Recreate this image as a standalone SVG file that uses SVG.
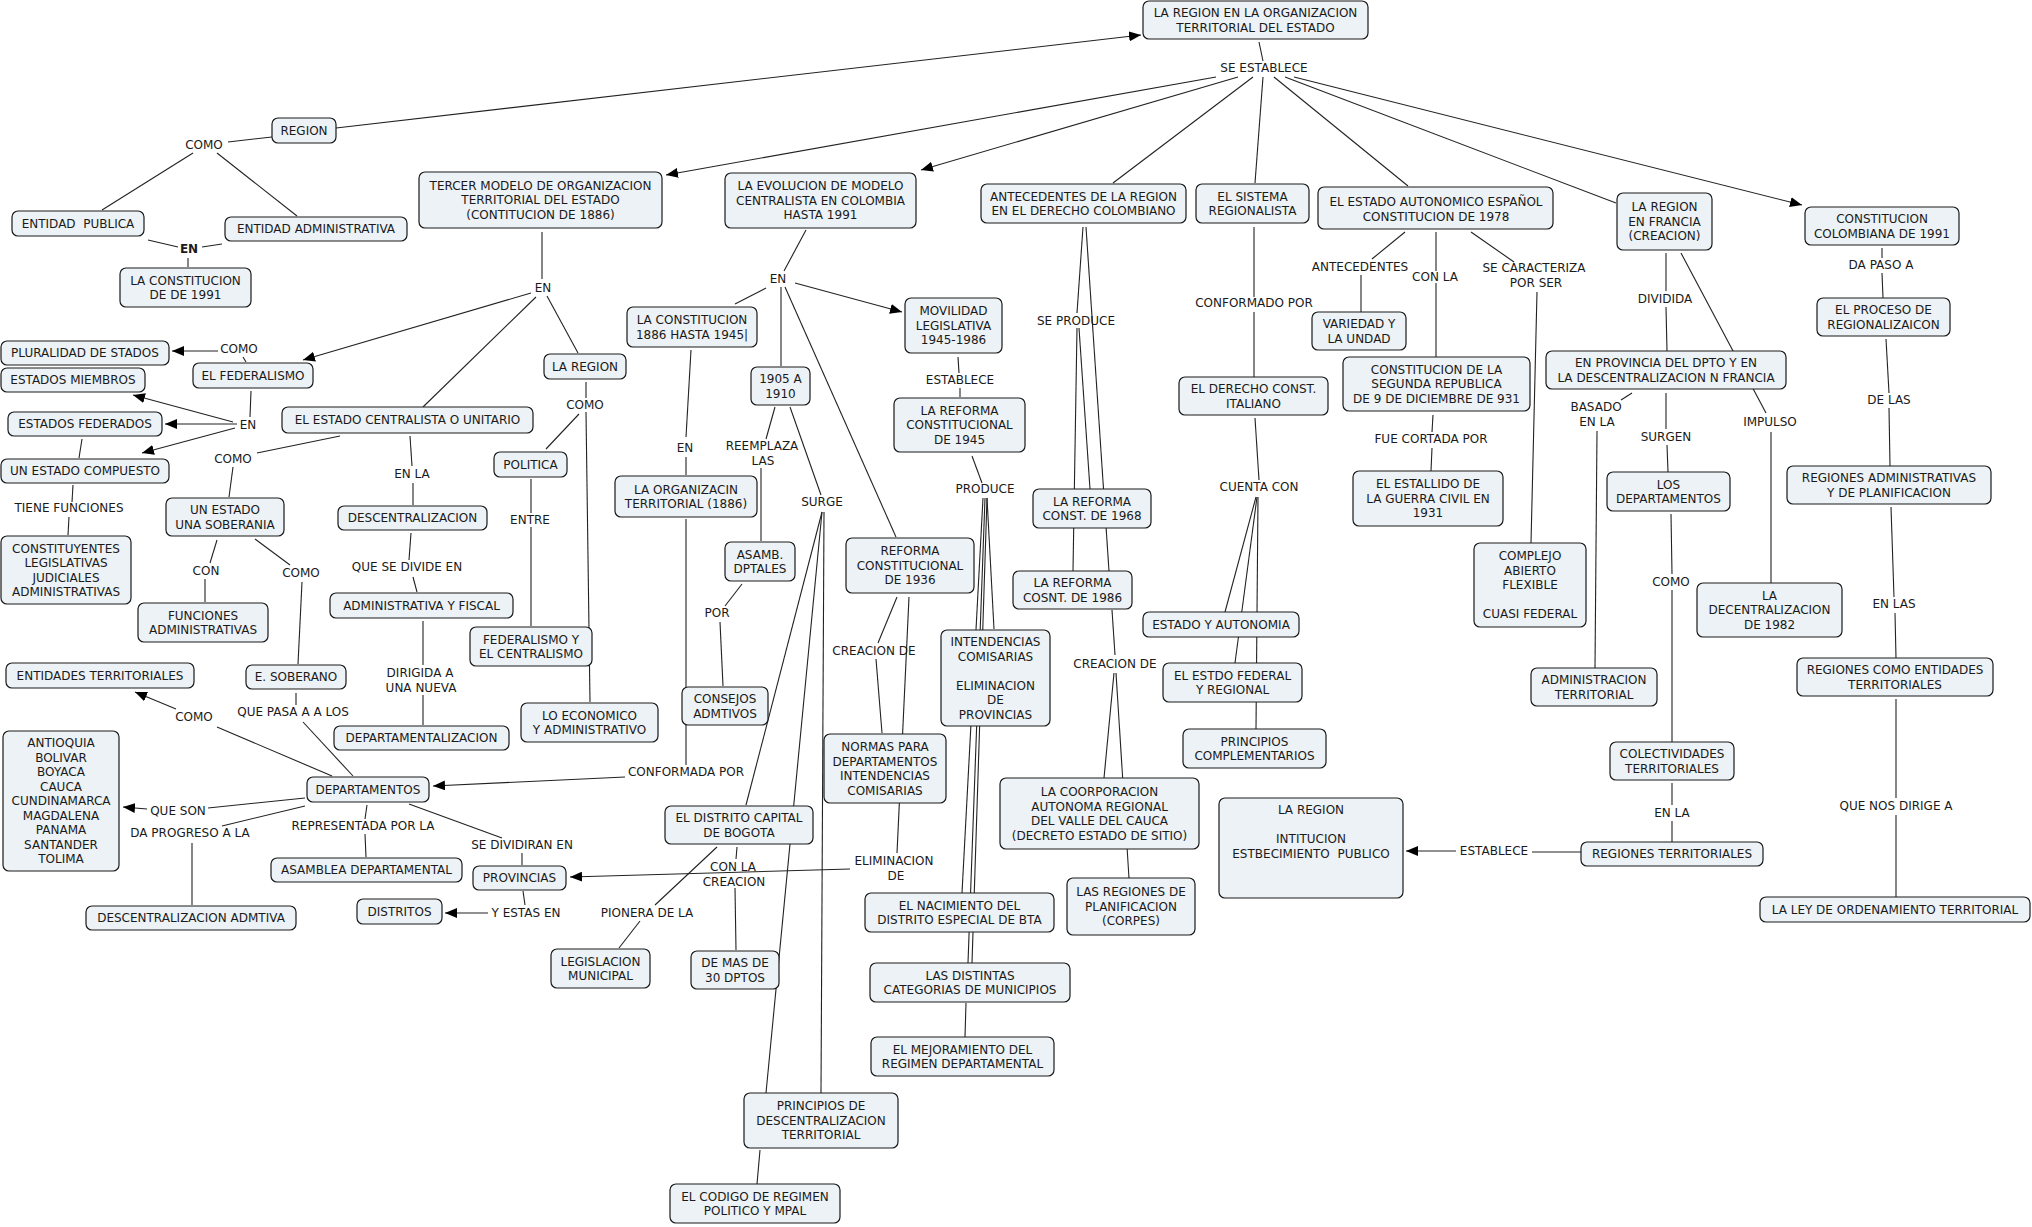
<svg xmlns="http://www.w3.org/2000/svg" width="2032" height="1227" viewBox="0 0 2032 1227">
<style>
.n rect{fill:#ecf2f5;stroke:#1a1a1a;stroke-width:1.2}
text{font-family:"DejaVu Sans",Verdana,sans-serif;font-size:12px;fill:#1a1a1a;text-anchor:middle}
#connectors line{stroke:#222;stroke-width:1.1;fill:none}
#connectors .a{marker-end:url(#ah)}
</style>
<defs>
<marker id="ah" viewBox="0 0 12 10" refX="12" refY="5" markerWidth="12" markerHeight="10" markerUnits="userSpaceOnUse" orient="auto"><path d="M0,0 L12,5 L0,10 z" fill="#000"/></marker>
</defs>
<rect width="2032" height="1227" fill="#fff"/>
<g id="connectors">
<line x1="272" y1="137" x2="228" y2="142"/>
<line x1="193" y1="153" x2="102" y2="210"/>
<line x1="217" y1="153" x2="297" y2="216"/>
<line x1="148" y1="240" x2="178" y2="247"/>
<line x1="222" y1="244" x2="202" y2="247"/>
<line x1="188" y1="258" x2="188" y2="267"/>
<line x1="1253" y1="77" x2="1113" y2="183"/>
<line x1="1263" y1="77" x2="1255" y2="183"/>
<line x1="1274" y1="77" x2="1408" y2="186"/>
<line x1="1285" y1="77" x2="1616" y2="203"/>
<line x1="1259" y1="42" x2="1263" y2="61"/>
<line x1="542" y1="232" x2="542" y2="279"/>
<line x1="536" y1="297" x2="423" y2="407"/>
<line x1="547" y1="296" x2="578" y2="353"/>
<line x1="806" y1="230" x2="784" y2="271"/>
<line x1="766" y1="288" x2="735" y2="304"/>
<line x1="781" y1="287" x2="781" y2="366"/>
<line x1="785" y1="287" x2="896" y2="537"/>
<line x1="958" y1="357" x2="959" y2="373"/>
<line x1="960" y1="388" x2="960" y2="397"/>
<line x1="586" y1="382" x2="586" y2="398"/>
<line x1="579" y1="414" x2="546" y2="449"/>
<line x1="586" y1="412" x2="590" y2="702"/>
<line x1="531" y1="479" x2="531" y2="513"/>
<line x1="531" y1="527" x2="531" y2="626"/>
<line x1="251" y1="391" x2="250" y2="417"/>
<line x1="246" y1="362" x2="243" y2="357"/>
<line x1="82" y1="439" x2="79" y2="458"/>
<line x1="73" y1="485" x2="72" y2="502"/>
<line x1="69" y1="517" x2="68" y2="535"/>
<line x1="340" y1="436" x2="257" y2="453"/>
<line x1="233" y1="467" x2="229" y2="497"/>
<line x1="217" y1="540" x2="210" y2="563"/>
<line x1="205" y1="579" x2="205" y2="602"/>
<line x1="255" y1="539" x2="290" y2="565"/>
<line x1="302" y1="582" x2="298" y2="664"/>
<line x1="296" y1="693" x2="296" y2="705"/>
<line x1="303" y1="722" x2="353" y2="776"/>
<line x1="332" y1="776" x2="217" y2="727"/>
<line x1="305" y1="798" x2="208" y2="808"/>
<line x1="305" y1="806" x2="222" y2="826"/>
<line x1="192" y1="843" x2="192" y2="905"/>
<line x1="367" y1="805" x2="365" y2="819"/>
<line x1="365" y1="834" x2="366" y2="857"/>
<line x1="409" y1="804" x2="502" y2="838"/>
<line x1="522" y1="853" x2="522" y2="865"/>
<line x1="523" y1="891" x2="525" y2="905"/>
<line x1="410" y1="436" x2="412" y2="466"/>
<line x1="413" y1="483" x2="413" y2="505"/>
<line x1="411" y1="533" x2="409" y2="560"/>
<line x1="413" y1="577" x2="417" y2="592"/>
<line x1="423" y1="621" x2="423" y2="665"/>
<line x1="423" y1="695" x2="423" y2="725"/>
<line x1="691" y1="350" x2="686" y2="437"/>
<line x1="686" y1="457" x2="686" y2="475"/>
<line x1="686" y1="519" x2="686" y2="765"/>
<line x1="775" y1="407" x2="766" y2="439"/>
<line x1="761" y1="468" x2="761" y2="541"/>
<line x1="742" y1="584" x2="725" y2="606"/>
<line x1="720" y1="622" x2="723" y2="686"/>
<line x1="790" y1="407" x2="821" y2="495"/>
<line x1="822" y1="512" x2="746" y2="805"/>
<line x1="822" y1="512" x2="766" y2="1093"/>
<line x1="824" y1="512" x2="821" y2="1093"/>
<line x1="897" y1="597" x2="878" y2="643"/>
<line x1="876" y1="659" x2="882" y2="733"/>
<line x1="909" y1="597" x2="897" y2="853"/>
<line x1="972" y1="456" x2="982" y2="483"/>
<line x1="987" y1="498" x2="994" y2="629"/>
<line x1="983" y1="498" x2="962" y2="893"/>
<line x1="985" y1="498" x2="968" y2="963"/>
<line x1="987" y1="498" x2="972" y2="963"/>
<line x1="966" y1="1003" x2="965" y2="1037"/>
<line x1="737" y1="847" x2="736" y2="859"/>
<line x1="735" y1="888" x2="736" y2="950"/>
<line x1="717" y1="847" x2="655" y2="905"/>
<line x1="640" y1="921" x2="619" y2="948"/>
<line x1="760" y1="1150" x2="757" y2="1184"/>
<line x1="1083" y1="227" x2="1077" y2="313"/>
<line x1="1086" y1="227" x2="1109" y2="571"/>
<line x1="1077" y1="328" x2="1073" y2="571"/>
<line x1="1079" y1="328" x2="1090" y2="489"/>
<line x1="1112" y1="610" x2="1115" y2="655"/>
<line x1="1114" y1="673" x2="1104" y2="778"/>
<line x1="1116" y1="673" x2="1129" y2="878"/>
<line x1="1254" y1="227" x2="1254" y2="297"/>
<line x1="1254" y1="312" x2="1254" y2="377"/>
<line x1="1255" y1="418" x2="1259" y2="480"/>
<line x1="1256" y1="497" x2="1225" y2="612"/>
<line x1="1257" y1="497" x2="1235" y2="663"/>
<line x1="1258" y1="497" x2="1256" y2="729"/>
<line x1="1405" y1="232" x2="1372" y2="259"/>
<line x1="1361" y1="275" x2="1361" y2="312"/>
<line x1="1436" y1="232" x2="1436" y2="271"/>
<line x1="1436" y1="283" x2="1436" y2="357"/>
<line x1="1471" y1="232" x2="1514" y2="262"/>
<line x1="1537" y1="292" x2="1531" y2="543"/>
<line x1="1433" y1="415" x2="1432" y2="432"/>
<line x1="1432" y1="448" x2="1431" y2="471"/>
<line x1="1666" y1="253" x2="1666" y2="291"/>
<line x1="1666" y1="307" x2="1667" y2="351"/>
<line x1="1681" y1="253" x2="1766" y2="413"/>
<line x1="1632" y1="393" x2="1621" y2="400"/>
<line x1="1597" y1="431" x2="1595" y2="668"/>
<line x1="1666" y1="393" x2="1666" y2="429"/>
<line x1="1667" y1="445" x2="1668" y2="472"/>
<line x1="1671" y1="514" x2="1672" y2="574"/>
<line x1="1672" y1="590" x2="1672" y2="742"/>
<line x1="1672" y1="783" x2="1672" y2="805"/>
<line x1="1672" y1="821" x2="1672" y2="842"/>
<line x1="1581" y1="852" x2="1532" y2="852"/>
<line x1="1771" y1="432" x2="1771" y2="583"/>
<line x1="1882" y1="248" x2="1882" y2="258"/>
<line x1="1882" y1="273" x2="1883" y2="298"/>
<line x1="1886" y1="339" x2="1889" y2="393"/>
<line x1="1889" y1="408" x2="1890" y2="466"/>
<line x1="1891" y1="507" x2="1894" y2="597"/>
<line x1="1895" y1="613" x2="1896" y2="658"/>
<line x1="1896" y1="699" x2="1896" y2="798"/>
<line x1="1896" y1="815" x2="1896" y2="897"/>
<line class="a" x1="336" y1="128" x2="1141" y2="35"/>
<line class="a" x1="1216" y1="77" x2="666" y2="175"/>
<line class="a" x1="1238" y1="77" x2="921" y2="170"/>
<line class="a" x1="1294" y1="77" x2="1802" y2="205"/>
<line class="a" x1="531" y1="293" x2="303" y2="360"/>
<line class="a" x1="218" y1="351" x2="172" y2="351"/>
<line class="a" x1="233" y1="422" x2="133" y2="395"/>
<line class="a" x1="237" y1="424" x2="165" y2="424"/>
<line class="a" x1="235" y1="428" x2="142" y2="453"/>
<line class="a" x1="176" y1="709" x2="135" y2="692"/>
<line class="a" x1="147" y1="809" x2="123" y2="807"/>
<line class="a" x1="488" y1="913" x2="445" y2="913"/>
<line class="a" x1="625" y1="777" x2="433" y2="786"/>
<line class="a" x1="850" y1="869" x2="570" y2="877"/>
<line class="a" x1="795" y1="283" x2="902" y2="312"/>
<line class="a" x1="1456" y1="851" x2="1406" y2="851"/>
</g>
<g id="labels">
<text x="204" y="149">COMO</text>
<text x="189" y="253" font-weight="bold">EN</text>
<text x="239" y="353">COMO</text>
<text x="248" y="429">EN</text>
<text x="233" y="463">COMO</text>
<text x="69" y="512">TIENE FUNCIONES</text>
<text x="206" y="575">CON</text>
<text x="301" y="577">COMO</text>
<text x="194" y="721">COMO</text>
<text x="293" y="716">QUE PASA A A LOS</text>
<text x="178" y="815">QUE SON</text>
<text x="190" y="837">DA PROGRESO A LA</text>
<text x="363" y="830">REPRESENTADA POR LA</text>
<text x="522" y="849">SE DIVIDIRAN EN</text>
<text x="686" y="776">CONFORMADA POR</text>
<text x="647" y="917">PIONERA DE LA</text>
<text x="733" y="871"><tspan x="733">CON LA</tspan><tspan x="734" dy="14.5">CREACION</tspan></text>
<text x="894" y="865"><tspan x="894">ELIMINACION</tspan><tspan x="896" dy="14.5">DE</tspan></text>
<text x="526" y="917">Y ESTAS EN</text>
<text x="543" y="292">EN</text>
<text x="585" y="409">COMO</text>
<text x="530" y="524">ENTRE</text>
<text x="412" y="478">EN LA</text>
<text x="407" y="571">QUE SE DIVIDE EN</text>
<text x="420" y="677"><tspan x="420">DIRIGIDA A</tspan><tspan x="421" dy="14.5">UNA NUEVA</tspan></text>
<text x="778" y="283">EN</text>
<text x="685" y="452">EN</text>
<text x="762" y="450"><tspan x="762">REEMPLAZA</tspan><tspan x="763" dy="14.5">LAS</tspan></text>
<text x="717" y="617">POR</text>
<text x="822" y="506">SURGE</text>
<text x="960" y="384">ESTABLECE</text>
<text x="985" y="493">PRODUCE</text>
<text x="874" y="655">CREACION DE</text>
<text x="1264" y="72">SE ESTABLECE</text>
<text x="1076" y="325">SE PRODUCE</text>
<text x="1115" y="668">CREACION DE</text>
<text x="1254" y="307">CONFORMADO POR</text>
<text x="1259" y="491">CUENTA CON</text>
<text x="1360" y="271">ANTECEDENTES</text>
<text x="1435" y="281">CON LA</text>
<text x="1534" y="272"><tspan x="1534">SE CARACTERIZA</tspan><tspan x="1536" dy="14.5">POR SER</tspan></text>
<text x="1431" y="443">FUE CORTADA POR</text>
<text x="1665" y="303">DIVIDIDA</text>
<text x="1597" y="411"><tspan x="1596">BASADO</tspan><tspan x="1597" dy="14.5">EN LA</tspan></text>
<text x="1666" y="441">SURGEN</text>
<text x="1770" y="426">IMPULSO</text>
<text x="1671" y="586">COMO</text>
<text x="1672" y="817">EN LA</text>
<text x="1494" y="855">ESTABLECE</text>
<text x="1881" y="269">DA PASO A</text>
<text x="1889" y="404">DE LAS</text>
<text x="1894" y="608">EN LAS</text>
<text x="1896" y="810">QUE NOS DIRIGE A</text>
</g>
<g id="n-root" class="n"><rect x="1143" y="1" width="225" height="38" rx="6"/><text x="1255.5" y="17"><tspan x="1255.5">LA REGION EN LA ORGANIZACION</tspan><tspan x="1255.5" dy="14.5">TERRITORIAL DEL ESTADO</tspan></text></g>
<g id="n-region" class="n"><rect x="272" y="118" width="64" height="25" rx="6"/><text x="304" y="135">REGION</text></g>
<g id="n-entpub" class="n"><rect x="12" y="211" width="132" height="25" rx="6"/><text x="78" y="228">ENTIDAD&#160; PUBLICA</text></g>
<g id="n-entadm" class="n"><rect x="225" y="217" width="182" height="24" rx="6"/><text x="316" y="233.3">ENTIDAD ADMINISTRATIVA</text></g>
<g id="n-const91" class="n"><rect x="120" y="268" width="131" height="39" rx="6"/><text x="185.5" y="284.5"><tspan x="185.5">LA CONSTITUCION</tspan><tspan x="185.5" dy="14.5">DE DE 1991</tspan></text></g>
<g id="n-tercer" class="n"><rect x="419" y="172" width="243" height="56" rx="6"/><text x="540.5" y="189.8"><tspan x="540.5">TERCER MODELO DE ORGANIZACION</tspan><tspan x="540.5" dy="14.5">TERRITORIAL DEL ESTADO</tspan><tspan x="540.5" dy="14.5">(CONTITUCION DE 1886)</tspan></text></g>
<g id="n-evol" class="n"><rect x="725" y="173" width="191" height="55" rx="6"/><text x="820.5" y="190.3"><tspan x="820.5">LA EVOLUCION DE MODELO</tspan><tspan x="820.5" dy="14.5">CENTRALISTA EN COLOMBIA</tspan><tspan x="820.5" dy="14.5">HASTA 1991</tspan></text></g>
<g id="n-antec" class="n"><rect x="981" y="184" width="205" height="39" rx="6"/><text x="1083.5" y="200.5"><tspan x="1083.5">ANTECEDENTES DE LA REGION</tspan><tspan x="1083.5" dy="14.5">EN EL DERECHO COLOMBIANO</tspan></text></g>
<g id="n-sistema" class="n"><rect x="1196" y="184" width="113" height="39" rx="6"/><text x="1252.5" y="200.5"><tspan x="1252.5">EL SISTEMA</tspan><tspan x="1252.5" dy="14.5">REGIONALISTA</tspan></text></g>
<g id="n-estaut" class="n"><rect x="1318" y="187" width="235" height="42" rx="6"/><text x="1436" y="206"><tspan x="1436">EL ESTADO AUTONOMICO ESPAÑOL</tspan><tspan x="1436" dy="14.5">CONSTITUCION DE 1978</tspan></text></g>
<g id="n-francia" class="n"><rect x="1617" y="193" width="95" height="57" rx="6"/><text x="1664.5" y="211.3"><tspan x="1664.5">LA REGION</tspan><tspan x="1664.5" dy="14.5">EN FRANCIA</tspan><tspan x="1664.5" dy="14.5">(CREACION)</tspan></text></g>
<g id="n-constcol" class="n"><rect x="1805" y="207" width="154" height="38" rx="6"/><text x="1882" y="223"><tspan x="1882">CONSTITUCION</tspan><tspan x="1882" dy="14.5">COLOMBIANA DE 1991</tspan></text></g>
<g id="n-pluralidad" class="n"><rect x="1" y="341" width="168" height="24" rx="6"/><text x="85" y="357.3">PLURALIDAD DE STADOS</text></g>
<g id="n-miembros" class="n"><rect x="1" y="368" width="144" height="24" rx="6"/><text x="73" y="384.3">ESTADOS MIEMBROS</text></g>
<g id="n-federalismo" class="n"><rect x="193" y="363" width="120" height="25" rx="6"/><text x="253" y="379.8">EL FEDERALISMO</text></g>
<g id="n-federados" class="n"><rect x="8" y="412" width="154" height="24" rx="6"/><text x="85" y="428.3">ESTADOS FEDERADOS</text></g>
<g id="n-compuesto" class="n"><rect x="1" y="459" width="168" height="24" rx="6"/><text x="85" y="475.3">UN ESTADO COMPUESTO</text></g>
<g id="n-constituyentes" class="n"><rect x="1" y="536" width="130" height="68" rx="6"/><text x="66" y="552.5"><tspan x="66">CONSTITUYENTES</tspan><tspan x="66" dy="14.5">LEGISLATIVAS</tspan><tspan x="66" dy="14.5">JUDICIALES</tspan><tspan x="66" dy="14.5">ADMINISTRATIVAS</tspan></text></g>
<g id="n-centralista" class="n"><rect x="282" y="407" width="251" height="26" rx="6"/><text x="407.5" y="424.3">EL ESTADO CENTRALISTA O UNITARIO</text></g>
<g id="n-unestado" class="n"><rect x="166" y="498" width="118" height="38" rx="6"/><text x="225" y="514"><tspan x="225">UN ESTADO</tspan><tspan x="225" dy="14.5">UNA SOBERANIA</tspan></text></g>
<g id="n-funciones" class="n"><rect x="138" y="603" width="130" height="39" rx="6"/><text x="203" y="619.5"><tspan x="203">FUNCIONES</tspan><tspan x="203" dy="14.5">ADMINISTRATIVAS</tspan></text></g>
<g id="n-soberano" class="n"><rect x="246" y="665" width="100" height="24" rx="6"/><text x="296" y="681.3">E. SOBERANO</text></g>
<g id="n-entterr" class="n"><rect x="6" y="663" width="188" height="25" rx="6"/><text x="100" y="679.8">ENTIDADES TERRITORIALES</text></g>
<g id="n-departamentos" class="n"><rect x="307" y="777" width="122" height="25" rx="6"/><text x="368" y="793.8">DEPARTAMENTOS</text></g>
<g id="n-antioquia" class="n"><rect x="3" y="731" width="116" height="140" rx="6"/><text x="61" y="747.3"><tspan x="61">ANTIOQUIA</tspan><tspan x="61" dy="14.5">BOLIVAR</tspan><tspan x="61" dy="14.5">BOYACA</tspan><tspan x="61" dy="14.5">CAUCA</tspan><tspan x="61" dy="14.5">CUNDINAMARCA</tspan><tspan x="61" dy="14.5">MAGDALENA</tspan><tspan x="61" dy="14.5">PANAMA</tspan><tspan x="61" dy="14.5">SANTANDER</tspan><tspan x="61" dy="14.5">TOLIMA</tspan></text></g>
<g id="n-descadmtiva" class="n"><rect x="86" y="906" width="210" height="24" rx="6"/><text x="191" y="922.3">DESCENTRALIZACION ADMTIVA</text></g>
<g id="n-asamblea" class="n"><rect x="271" y="858" width="191" height="24" rx="6"/><text x="366.5" y="874.3">ASAMBLEA DEPARTAMENTAL</text></g>
<g id="n-provincias" class="n"><rect x="473" y="866" width="93" height="24" rx="6"/><text x="519.5" y="882.3">PROVINCIAS</text></g>
<g id="n-distritos" class="n"><rect x="357" y="899" width="85" height="25" rx="6"/><text x="399.5" y="915.8">DISTRITOS</text></g>
<g id="n-descentralizacion" class="n"><rect x="338" y="506" width="149" height="24" rx="6"/><text x="412.5" y="522.3">DESCENTRALIZACION</text></g>
<g id="n-admfiscal" class="n"><rect x="330" y="593" width="183" height="25" rx="6"/><text x="421.5" y="609.8">ADMINISTRATIVA Y FISCAL</text></g>
<g id="n-deptalizacion" class="n"><rect x="334" y="726" width="175" height="24" rx="6"/><text x="421.5" y="742.3">DEPARTAMENTALIZACION</text></g>
<g id="n-laregion2" class="n"><rect x="544" y="354" width="82" height="25" rx="6"/><text x="585" y="370.8">LA REGION</text></g>
<g id="n-politica" class="n"><rect x="494" y="452" width="73" height="25" rx="6"/><text x="530.5" y="468.8">POLITICA</text></g>
<g id="n-fedcent" class="n"><rect x="470" y="627" width="122" height="39" rx="6"/><text x="531" y="643.5"><tspan x="531">FEDERALISMO Y</tspan><tspan x="531" dy="14.5">EL CENTRALISMO</tspan></text></g>
<g id="n-economico" class="n"><rect x="521" y="703" width="137" height="39" rx="6"/><text x="589.5" y="719.5"><tspan x="589.5">LO ECONOMICO</tspan><tspan x="589.5" dy="14.5">Y ADMINISTRATIVO</tspan></text></g>
<g id="n-const1886" class="n"><rect x="627" y="307" width="130" height="40" rx="6"/><text x="692" y="324"><tspan x="692">LA CONSTITUCION</tspan><tspan x="692" dy="14.5">1886 HASTA 1945|</tspan></text></g>
<g id="n-organizacin" class="n"><rect x="615" y="476" width="142" height="41" rx="6"/><text x="686" y="493.5"><tspan x="686">LA ORGANIZACIN</tspan><tspan x="686" dy="14.5">TERRITORIAL (1886)</tspan></text></g>
<g id="n-1905" class="n"><rect x="751" y="367" width="59" height="38" rx="6"/><text x="780.5" y="383"><tspan x="780.5">1905 A</tspan><tspan x="780.5" dy="14.5">1910</tspan></text></g>
<g id="n-asamb" class="n"><rect x="725" y="542" width="70" height="39" rx="6"/><text x="760" y="558.5"><tspan x="760">ASAMB.</tspan><tspan x="760" dy="14.5">DPTALES</tspan></text></g>
<g id="n-consejos" class="n"><rect x="682" y="687" width="86" height="38" rx="6"/><text x="725" y="703"><tspan x="725">CONSEJOS</tspan><tspan x="725" dy="14.5">ADMTIVOS</tspan></text></g>
<g id="n-movilidad" class="n"><rect x="905" y="298" width="97" height="55" rx="6"/><text x="953.5" y="315.3"><tspan x="953.5">MOVILIDAD</tspan><tspan x="953.5" dy="14.5">LEGISLATIVA</tspan><tspan x="953.5" dy="14.5">1945-1986</tspan></text></g>
<g id="n-ref1945" class="n"><rect x="894" y="398" width="131" height="54" rx="6"/><text x="959.5" y="414.8"><tspan x="959.5">LA REFORMA</tspan><tspan x="959.5" dy="14.5">CONSTITUCIONAL</tspan><tspan x="959.5" dy="14.5">DE 1945</tspan></text></g>
<g id="n-ref1936" class="n"><rect x="846" y="538" width="128" height="55" rx="6"/><text x="910" y="555.3"><tspan x="910">REFORMA</tspan><tspan x="910" dy="14.5">CONSTITUCIONAL</tspan><tspan x="910" dy="14.5">DE 1936</tspan></text></g>
<g id="n-normas" class="n"><rect x="824" y="734" width="122" height="69" rx="6"/><text x="885" y="751"><tspan x="885">NORMAS PARA</tspan><tspan x="885" dy="14.5">DEPARTAMENTOS</tspan><tspan x="885" dy="14.5">INTENDENCIAS</tspan><tspan x="885" dy="14.5">COMISARIAS</tspan></text></g>
<g id="n-intendencias" class="n"><rect x="941" y="630" width="109" height="96" rx="6"/><text x="995.5" y="646"><tspan x="995.5">INTENDENCIAS</tspan><tspan x="995.5" dy="14.5">COMISARIAS</tspan><tspan x="995.5" dy="29">ELIMINACION</tspan><tspan x="995.5" dy="14.5">DE</tspan><tspan x="995.5" dy="14.5">PROVINCIAS</tspan></text></g>
<g id="n-distcap" class="n"><rect x="665" y="806" width="148" height="38" rx="6"/><text x="739" y="822"><tspan x="739">EL DISTRITO CAPITAL</tspan><tspan x="739" dy="14.5">DE BOGOTA</tspan></text></g>
<g id="n-demas" class="n"><rect x="691" y="951" width="88" height="38" rx="6"/><text x="735" y="967"><tspan x="735">DE MAS DE</tspan><tspan x="735" dy="14.5">30 DPTOS</tspan></text></g>
<g id="n-legislacion" class="n"><rect x="551" y="949" width="99" height="39" rx="6"/><text x="600.5" y="965.5"><tspan x="600.5">LEGISLACION</tspan><tspan x="600.5" dy="14.5">MUNICIPAL</tspan></text></g>
<g id="n-principios" class="n"><rect x="744" y="1093" width="154" height="55" rx="6"/><text x="821" y="1110.3"><tspan x="821">PRINCIPIOS DE</tspan><tspan x="821" dy="14.5">DESCENTRALIZACION</tspan><tspan x="821" dy="14.5">TERRITORIAL</tspan></text></g>
<g id="n-codigo" class="n"><rect x="670" y="1184" width="170" height="39" rx="6"/><text x="755" y="1200.5"><tspan x="755">EL CODIGO DE REGIMEN</tspan><tspan x="755" dy="14.5">POLITICO Y MPAL</tspan></text></g>
<g id="n-nacimiento" class="n"><rect x="865" y="893" width="189" height="39" rx="6"/><text x="959.5" y="909.5"><tspan x="959.5">EL NACIMIENTO DEL</tspan><tspan x="959.5" dy="14.5">DISTRITO ESPECIAL DE BTA</tspan></text></g>
<g id="n-distintas" class="n"><rect x="870" y="963" width="200" height="39" rx="6"/><text x="970" y="979.5"><tspan x="970">LAS DISTINTAS</tspan><tspan x="970" dy="14.5">CATEGORIAS DE MUNICIPIOS</tspan></text></g>
<g id="n-mejoramiento" class="n"><rect x="871" y="1037" width="183" height="39" rx="6"/><text x="962.5" y="1053.5"><tspan x="962.5">EL MEJORAMIENTO DEL</tspan><tspan x="962.5" dy="14.5">REGIMEN DEPARTAMENTAL</tspan></text></g>
<g id="n-ref1968" class="n"><rect x="1033" y="489" width="118" height="39" rx="6"/><text x="1092" y="505.5"><tspan x="1092">LA REFORMA</tspan><tspan x="1092" dy="14.5">CONST. DE 1968</tspan></text></g>
<g id="n-ref1986" class="n"><rect x="1013" y="571" width="119" height="38" rx="6"/><text x="1072.5" y="587"><tspan x="1072.5">LA REFORMA</tspan><tspan x="1072.5" dy="14.5">COSNT. DE 1986</tspan></text></g>
<g id="n-coorporacion" class="n"><rect x="1000" y="778" width="199" height="71" rx="6"/><text x="1099.5" y="796"><tspan x="1099.5">LA COORPORACION</tspan><tspan x="1099.5" dy="14.5">AUTONOMA REGIONAL</tspan><tspan x="1099.5" dy="14.5">DEL VALLE DEL CAUCA</tspan><tspan x="1099.5" dy="14.5">(DECRETO ESTADO DE SITIO)</tspan></text></g>
<g id="n-corpes" class="n"><rect x="1067" y="878" width="128" height="57" rx="6"/><text x="1131" y="896.3"><tspan x="1131">LAS REGIONES DE</tspan><tspan x="1131" dy="14.5">PLANIFICACION</tspan><tspan x="1131" dy="14.5">(CORPES)</tspan></text></g>
<g id="n-derecho" class="n"><rect x="1179" y="377" width="149" height="38" rx="6"/><text x="1253.5" y="393"><tspan x="1253.5">EL DERECHO CONST.</tspan><tspan x="1253.5" dy="14.5">ITALIANO</tspan></text></g>
<g id="n-estadoauton" class="n"><rect x="1143" y="612" width="156" height="25" rx="6"/><text x="1221" y="628.8">ESTADO Y AUTONOMIA</text></g>
<g id="n-estdofed" class="n"><rect x="1163" y="663" width="139" height="39" rx="6"/><text x="1232.5" y="679.5"><tspan x="1232.5">EL ESTDO FEDERAL</tspan><tspan x="1232.5" dy="14.5">Y REGIONAL</tspan></text></g>
<g id="n-princomp" class="n"><rect x="1183" y="729" width="143" height="39" rx="6"/><text x="1254.5" y="745.5"><tspan x="1254.5">PRINCIPIOS</tspan><tspan x="1254.5" dy="14.5">COMPLEMENTARIOS</tspan></text></g>
<g id="n-laregion3" class="n"><rect x="1219" y="798" width="184" height="100" rx="6"/><text x="1311" y="814.3"><tspan x="1311">LA REGION</tspan><tspan x="1311" dy="29">INTITUCION</tspan><tspan x="1311" dy="14.5">ESTBECIMIENTO&#160; PUBLICO</tspan></text></g>
<g id="n-variedad" class="n"><rect x="1312" y="312" width="94" height="38" rx="6"/><text x="1359" y="328"><tspan x="1359">VARIEDAD Y</tspan><tspan x="1359" dy="14.5">LA UNDAD</tspan></text></g>
<g id="n-segunda" class="n"><rect x="1343" y="357" width="187" height="54" rx="6"/><text x="1436.5" y="373.8"><tspan x="1436.5">CONSTITUCION DE LA</tspan><tspan x="1436.5" dy="14.5">SEGUNDA REPUBLICA</tspan><tspan x="1436.5" dy="14.5">DE 9 DE DICIEMBRE DE 931</tspan></text></g>
<g id="n-estallido" class="n"><rect x="1353" y="471" width="150" height="55" rx="6"/><text x="1428" y="488.3"><tspan x="1428">EL ESTALLIDO DE</tspan><tspan x="1428" dy="14.5">LA GUERRA CIVIL EN</tspan><tspan x="1428" dy="14.5">1931</tspan></text></g>
<g id="n-complejo" class="n"><rect x="1474" y="543" width="112" height="84" rx="6"/><text x="1530" y="560.3"><tspan x="1530">COMPLEJO</tspan><tspan x="1530" dy="14.5">ABIERTO</tspan><tspan x="1530" dy="14.5">FLEXIBLE</tspan><tspan x="1530" dy="29">CUASI FEDERAL</tspan></text></g>
<g id="n-enprov" class="n"><rect x="1546" y="351" width="240" height="38" rx="6"/><text x="1666" y="367"><tspan x="1666">EN PROVINCIA DEL DPTO Y EN</tspan><tspan x="1666" dy="14.5">LA DESCENTRALIZACION N FRANCIA</tspan></text></g>
<g id="n-admterr" class="n"><rect x="1531" y="668" width="126" height="38" rx="6"/><text x="1594" y="684"><tspan x="1594">ADMINISTRACION</tspan><tspan x="1594" dy="14.5">TERRITORIAL</tspan></text></g>
<g id="n-losdept" class="n"><rect x="1607" y="472" width="123" height="39" rx="6"/><text x="1668.5" y="488.5"><tspan x="1668.5">LOS</tspan><tspan x="1668.5" dy="14.5">DEPARTAMENTOS</tspan></text></g>
<g id="n-colect" class="n"><rect x="1610" y="742" width="124" height="38" rx="6"/><text x="1672" y="758"><tspan x="1672">COLECTIVIDADES</tspan><tspan x="1672" dy="14.5">TERRITORIALES</tspan></text></g>
<g id="n-regterr" class="n"><rect x="1581" y="842" width="182" height="24" rx="6"/><text x="1672" y="858.3">REGIONES TERRITORIALES</text></g>
<g id="n-decent82" class="n"><rect x="1697" y="583" width="145" height="54" rx="6"/><text x="1769.5" y="599.8"><tspan x="1769.5">LA</tspan><tspan x="1769.5" dy="14.5">DECENTRALIZACION</tspan><tspan x="1769.5" dy="14.5">DE 1982</tspan></text></g>
<g id="n-proceso" class="n"><rect x="1817" y="298" width="133" height="38" rx="6"/><text x="1883.5" y="314"><tspan x="1883.5">EL PROCESO DE</tspan><tspan x="1883.5" dy="14.5">REGIONALIZAICON</tspan></text></g>
<g id="n-regadmin" class="n"><rect x="1787" y="466" width="204" height="38" rx="6"/><text x="1889" y="482"><tspan x="1889">REGIONES ADMINISTRATIVAS</tspan><tspan x="1889" dy="14.5">Y DE PLANIFICACION</tspan></text></g>
<g id="n-regcomo" class="n"><rect x="1797" y="658" width="196" height="38" rx="6"/><text x="1895" y="674"><tspan x="1895">REGIONES COMO ENTIDADES</tspan><tspan x="1895" dy="14.5">TERRITORIALES</tspan></text></g>
<g id="n-laley" class="n"><rect x="1760" y="897" width="270" height="25" rx="6"/><text x="1895" y="913.8">LA LEY DE ORDENAMIENTO TERRITORIAL</text></g>
</svg>
